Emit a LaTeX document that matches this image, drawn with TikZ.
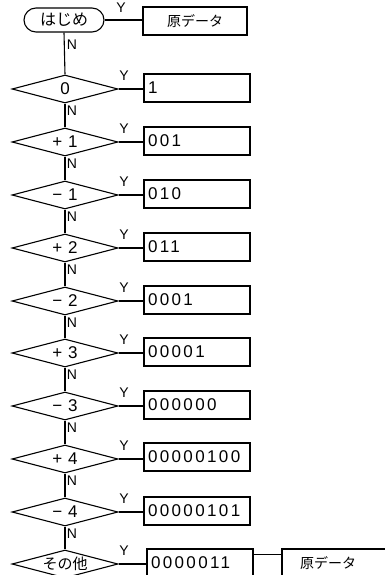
\documentclass[tikz,border=0pt]{standalone}
\usepackage{fontspec}
\setmainfont{Liberation Sans}
\newfontfamily\jp{Noto Sans CJK JP}
\usetikzlibrary{shapes.geometric}
\begin{document}
\begin{tikzpicture}[x=1pt,y=-1pt,line width=1.1pt,
  dia/.style={draw,diamond,aspect=3.8,inner sep=0pt,minimum width=106pt,minimum height=28pt,font=\fontsize{17}{17}\selectfont},
  res/.style={draw,rectangle,minimum width=106pt,minimum height=28pt,text width=98pt,inner xsep=4pt,align=left,font=\fontsize{17}{17}\selectfont\addfontfeature{LetterSpace=14}},
  startbox/.style={draw,rounded corners=12pt,minimum width=80pt,minimum height=24pt,inner sep=0pt,font=\jp\fontsize{16}{16}\selectfont},
  orig/.style={draw,rectangle,minimum width=104pt,minimum height=28pt,inner sep=0pt,font=\jp\fontsize{14}{14}\selectfont},
  lab/.style={font=\fontsize{14}{14}\selectfont,inner sep=0pt}]
\useasboundingbox (0,0) rectangle (385,575);

\node[startbox] (s) at (64,20) {はじめ};
\node[orig] (o1) at (195,21) {原データ};
\draw (s.east) -- (o1.west |- s.east);
\node[lab] at (121,8) {Y};

% diamonds
\node[dia] (d0) at (65,89) {0};
\node[dia] (d1) at (65,142) {+\,\,1};
\node[dia] (d2) at (65,195) {−\,\,1};
\node[dia] (d3) at (65,248) {+\,\,2};
\node[dia] (d4) at (65,301) {−\,\,2};
\node[dia] (d5) at (65,353) {+\,\,3};
\node[dia] (d6) at (65,406) {−\,\,3};
\node[dia] (d7) at (65,459) {+\,\,4};
\node[dia] (d8) at (65,512) {−\,\,4};
\node[dia,font=\jp\fontsize{15}{15}\selectfont] (d9) at (65,564) {その他};

% result boxes
\node[res] (r0) at (197,88) {1};
\node[res] (r1) at (197,141) {001};
\node[res] (r2) at (197,194) {010};
\node[res] (r3) at (197,247) {011};
\node[res] (r4) at (197,300) {0001};
\node[res] (r5) at (197,352) {00001};
\node[res] (r6) at (197,405) {000000};
\node[res] (r7) at (197,457) {00000100};
\node[res] (r8) at (197,511) {00000101};
\node[res] (r9) at (200,563) {0000011};
\node[orig,minimum width=108pt,text width=100pt,align=left] (o2) at (336,563) {\hspace{14pt}原データ};

% vertical N connectors
\draw (s.south) -- (d0.north);
\foreach \a/\b in {0/1,1/2,2/3,3/4,4/5,5/6,6/7,7/8,8/9}{
  \draw (d\a.south) -- (d\b.north);
}
\node[lab] at (72,45) {N};
\foreach \i/\y in {0/89,1/142,2/195,3/248,4/301,5/353,6/406,7/459,8/512}{
  \node[lab] at (72,\y+22) {N};
}
% Y connectors
\foreach \i/\y in {0/89,1/142,2/195,3/248,4/301,5/353,6/406,7/459,8/512,9/564}{
  \draw (d\i.east) -- (r\i.west |- d\i.east);
  \node[lab] at (124,\y-13) {Y};
}
\draw ([yshift=-6pt]r9.north east) -- ([yshift=-6pt]o2.north west);
\end{tikzpicture}
\end{document}
